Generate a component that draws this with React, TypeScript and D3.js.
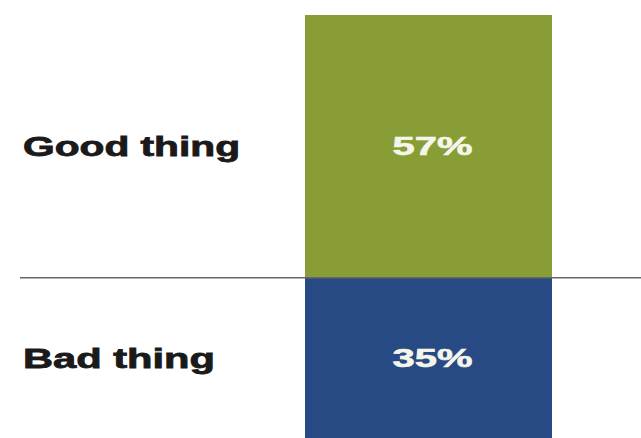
import React from "react";
import * as d3 from "d3";

const categories = ["Good thing", "Bad thing"];
const values = [57, 35];
const colors = ["#889d36", "#284a84"];

const W = 641;
const H = 438;

export default function App() {
  const total = d3.sum(values);
  const y = d3.scaleLinear().domain([0, total]).range([15, 439]);
  const x = d3.scaleBand().domain(["all"]).range([305, 552]).padding(0);
  const stack = d3.cumsum([0, ...values]);
  const labelWidths = [217, 192];

  return (
    <svg
      width={W}
      height={H}
      style={{ position: "absolute", left: 0, top: 0, background: "#fff" }}
      fontFamily="'Liberation Sans', Arial, sans-serif"
    >
      {values.map((v, i) => {
        const y0 = y(stack[i]);
        const y1 = y(stack[i + 1]);
        const mid = (y0 + y1) / 2;
        return (
          <g key={categories[i]}>
            <rect
              x={x("all")}
              y={y0}
              width={x.bandwidth()}
              height={y1 - y0}
              fill={colors[i]}
            />
            <text
              x={23}
              y={mid + 9.5}
              fontSize={27}
              fontWeight="bold"
              fill="#1a1a1a"
              stroke="#1a1a1a"
              strokeWidth={0.8}
              textLength={labelWidths[i]}
              lengthAdjust="spacingAndGlyphs"
            >
              {categories[i]}
            </text>
            <text
              x={432.5}
              y={mid + 8.5}
              fontSize={25}
              fontWeight="bold"
              fill="#f4f6ea"
              stroke="#f4f6ea"
              strokeWidth={0.6}
              textAnchor="middle"
              textLength={80}
              lengthAdjust="spacingAndGlyphs"
            >
              {`${v}%`}
            </text>
          </g>
        );
      })}
      <line
        x1={20}
        x2={W}
        y1={y(values[0])}
        y2={y(values[0])}
        stroke="#666"
        strokeWidth={1.5}
      />
    </svg>
  );
}
